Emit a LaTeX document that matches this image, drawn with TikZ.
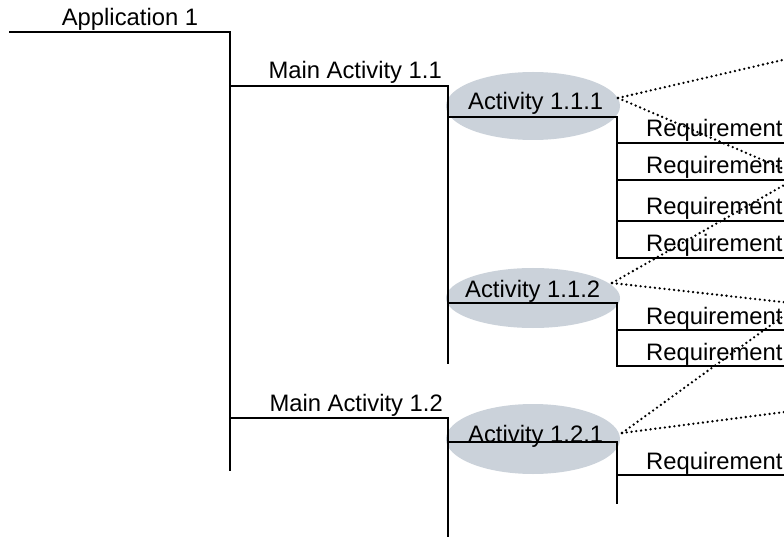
\documentclass[tikz,border=0pt]{standalone}
\usepackage{fontspec}
\setmainfont{Liberation Sans}
\usetikzlibrary{shapes.geometric}
\definecolor{bubble}{RGB}{203,210,218}
\tikzset{
  tree/.style={line width=1.4pt, line cap=rect},
  link/.style={line width=2.6pt, line cap=round, dash pattern=on 0pt off 4.8pt},
  bubblenode/.style={ellipse, fill=bubble, draw=none, inner sep=0pt,
    minimum width=174pt, minimum height=#1},
  txt/.style={inner sep=0pt, font=\fontsize{23.8}{28}\selectfont},
}
\begin{document}
\begin{tikzpicture}[x=1pt,y=-1pt]
\useasboundingbox (0,0) rectangle (784,537);
\clip (0,0) rectangle (784,537);

% activity bubbles
\node[bubblenode=68pt] (b111) at (533,106) {};
\node[bubblenode=60pt] (b112) at (533,298) {};
\node[bubblenode=70pt] (b121) at (533,439) {};

% tree skeleton
\coordinate (app0) at (10,32);
\coordinate (app1) at (230,32);
\coordinate (append) at (230,470);
\coordinate (m11a) at (230,86);
\coordinate (m11b) at (448,86);
\coordinate (m11end) at (448,363);
\coordinate (m12a) at (230,418);
\coordinate (m12b) at (448,418);
\coordinate (m12end) at (448,540);

\draw[tree] (app0) -- (app1) -- (append);
\draw[tree] (m11a) -- (m11b) -- (m11end);
\draw[tree] (m12a) -- (m12b) -- (m12end);

% activity branches with their requirements
\coordinate (a111l) at (448,117);
\coordinate (a111r) at (617,117);
\coordinate (a111end) at (617,258);
\coordinate (a112l) at (448,303);
\coordinate (a112r) at (617,303);
\coordinate (a112end) at (617,366);
\coordinate (a121l) at (448,442);
\coordinate (a121r) at (617,442);
\coordinate (a121end) at (617,503);

\draw[tree] (a111l) -- (a111r) -- (a111end);
\draw[tree] (a112l) -- (a112r) -- (a112end);
\draw[tree] (a121l) -- (a121r) -- (a121end);

\foreach \y/\n in {143/r1,180/r2,221/r3,258/r4,330/r5,366/r6,475/r7} {
  \coordinate (\n a) at (617,\y);
  \coordinate (\n b) at (790,\y);
  \draw[tree] (\n a) -- (\n b);
  \node[txt, anchor=base west] (\n t) at (646,\y-6) {Requirement};
}

% labels
\node[txt, anchor=base] (lapp) at (130,26) {Application 1};
\node[txt, anchor=base east] (lm11) at (442,79) {Main Activity 1.1};
\node[txt, anchor=base east] (lm12) at (443,411) {Main Activity 1.2};
\node[txt, anchor=base west] (l111) at (468,110) {Activity 1.1.1};
\node[txt, anchor=base west] (l112) at (465,298) {Activity 1.1.2};
\node[txt, anchor=base west] (l121) at (468,442) {Activity 1.2.1};

% dotted links leaving to the right
\coordinate (s111) at (618,98);
\coordinate (s112) at (612,283);
\coordinate (s121) at (622,433);
\coordinate (e1) at (800,56);
\coordinate (e2) at (800,176);
\coordinate (e3) at (800,304);
\coordinate (e4) at (800,410);

\draw[link] (s111) -- (e1);
\draw[link] (s111) -- (e2);
\draw[link] (s112) -- (e2);
\draw[link] (s112) -- (e3);
\draw[link] (s121) -- (e3);
\draw[link] (s121) -- (e4);
\end{tikzpicture}
\end{document}
